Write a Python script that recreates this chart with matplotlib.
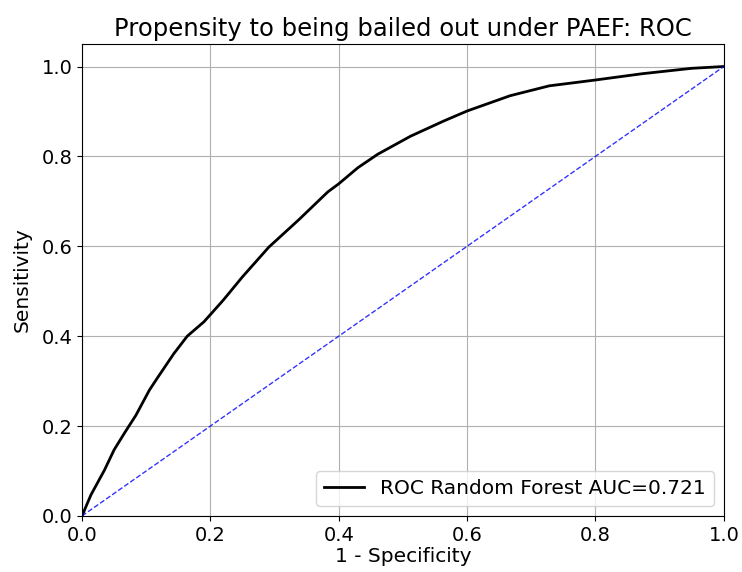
import numpy as np
import matplotlib.pyplot as plt

# ROC curve
fpr = [0.0, 0.014, 0.035, 0.050, 0.066, 0.084, 0.105, 0.117, 0.143, 0.164,
       0.19, 0.22, 0.25, 0.291, 0.337, 0.383, 0.4, 0.43, 0.461, 0.512,
       0.564, 0.6, 0.667, 0.728, 0.8, 0.873, 0.95, 1.0]
tpr = [0.0, 0.047, 0.102, 0.147, 0.184, 0.224, 0.280, 0.306, 0.361, 0.40,
       0.432, 0.48, 0.532, 0.598, 0.658, 0.721, 0.739, 0.775, 0.805, 0.845,
       0.879, 0.901, 0.935, 0.957, 0.97, 0.984, 0.996, 1.0]
auc = 0.721

fig = plt.figure(figsize=(7.42, 5.72), dpi=100)
ax = fig.add_axes([0.1105, 0.098, 0.865, 0.825])

ax.plot(fpr, tpr, 'k-', linewidth=2, label='ROC Random Forest AUC=%.3f' % auc)
ax.plot([0, 1], [0, 1], 'b--', linewidth=1, alpha=0.8)

ax.set_xlim(0, 1)
ax.set_ylim(0, 1.05)
ax.set_xlabel('1 - Specificity', fontsize=14.5, labelpad=2)
ax.set_ylabel('Sensitivity', fontsize=14.5, labelpad=7)
ax.set_title('Propensity to being bailed out under PAEF: ROC', fontsize=17.5)
ax.tick_params(labelsize=14)
ax.legend(loc='lower right', fontsize=14.5)
ax.grid()

fig.savefig('out.png', dpi=100)
